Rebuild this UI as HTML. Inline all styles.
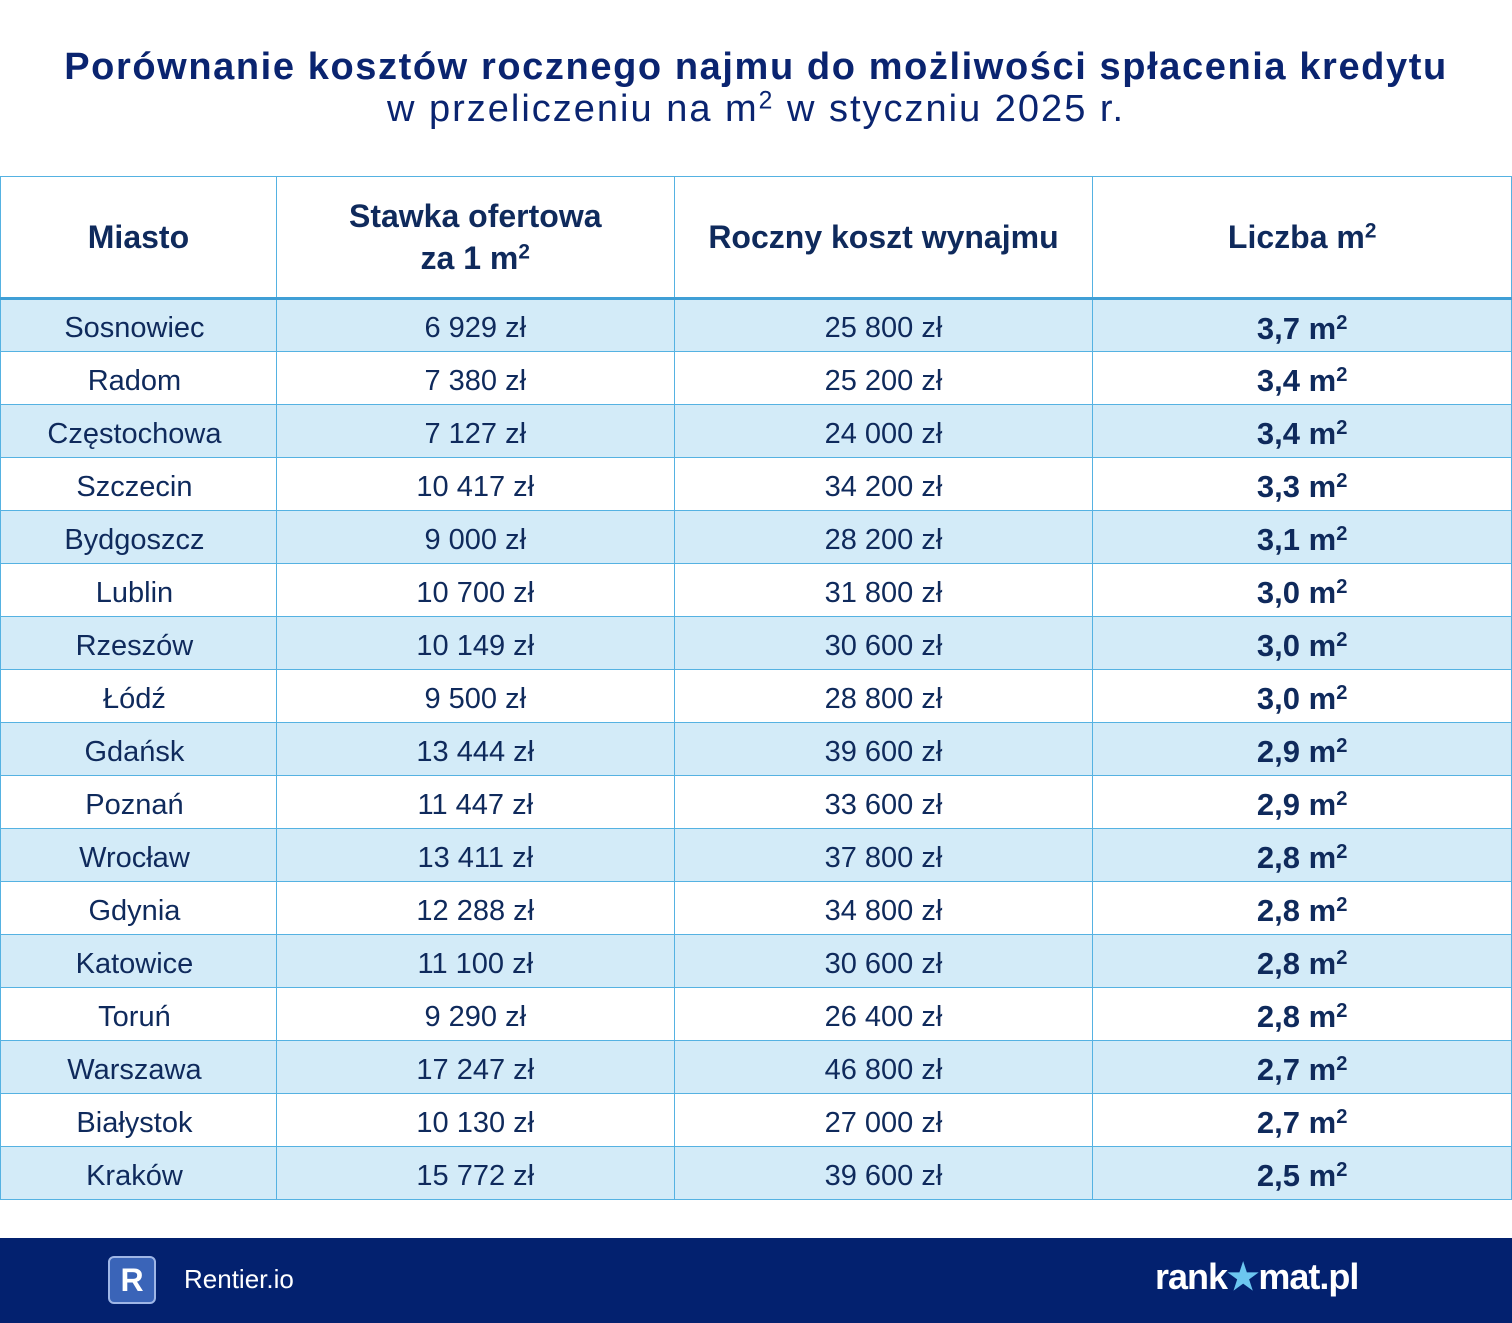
<!DOCTYPE html>
<html><head><meta charset="utf-8"><style>
body{margin:0;width:1512px;height:1323px;background:#fff;font-family:"Liberation Sans",sans-serif;color:#0f2a5c;position:relative;overflow:hidden}
.t1{position:absolute;top:46px;left:0;width:1512px;text-align:center;font-weight:bold;font-size:38px;color:#0a2470;letter-spacing:1.6px}
.t2{position:absolute;top:88px;left:0;width:1512px;text-align:center;font-size:38px;color:#0a2470;letter-spacing:2px}
table{position:absolute;top:176px;left:0;width:1512px;border-collapse:collapse}
td,th{border:1px solid #55b2e2;text-align:center;padding:0}
th{height:120px;font-size:32px;font-weight:bold;line-height:42px;border-bottom:3px solid #3f9fd6}
td{height:53px;font-size:29px;padding-top:6px;box-sizing:border-box}
tr.b td{background:#d3ebf8}
td.l{font-weight:bold;font-size:31px}
td:first-child{padding-right:8px}
sup{font-size:0.65em;vertical-align:0.5em;line-height:0}
.foot{position:absolute;top:1238px;left:0;width:1512px;height:85px;background:#03216f}
</style></head><body>
<div class="t1">Porównanie kosztów rocznego najmu do możliwości spłacenia kredytu</div>
<div class="t2">w przeliczeniu na m<sup>2</sup> w styczniu 2025 r.</div>
<table>
<colgroup><col style="width:276px"><col style="width:398px"><col style="width:419px"><col style="width:419px"></colgroup>
<tr><th>Miasto</th><th>Stawka ofertowa<br>za 1 m<sup>2</sup></th><th>Roczny koszt wynajmu</th><th>Liczba m<sup>2</sup></th></tr>
<tr class="b"><td>Sosnowiec</td><td>6 929 zł</td><td>25 800 zł</td><td class="l">3,7 m<sup>2</sup></td></tr>
<tr><td>Radom</td><td>7 380 zł</td><td>25 200 zł</td><td class="l">3,4 m<sup>2</sup></td></tr>
<tr class="b"><td>Częstochowa</td><td>7 127 zł</td><td>24 000 zł</td><td class="l">3,4 m<sup>2</sup></td></tr>
<tr><td>Szczecin</td><td>10 417 zł</td><td>34 200 zł</td><td class="l">3,3 m<sup>2</sup></td></tr>
<tr class="b"><td>Bydgoszcz</td><td>9 000 zł</td><td>28 200 zł</td><td class="l">3,1 m<sup>2</sup></td></tr>
<tr><td>Lublin</td><td>10 700 zł</td><td>31 800 zł</td><td class="l">3,0 m<sup>2</sup></td></tr>
<tr class="b"><td>Rzeszów</td><td>10 149 zł</td><td>30 600 zł</td><td class="l">3,0 m<sup>2</sup></td></tr>
<tr><td>Łódź</td><td>9 500 zł</td><td>28 800 zł</td><td class="l">3,0 m<sup>2</sup></td></tr>
<tr class="b"><td>Gdańsk</td><td>13 444 zł</td><td>39 600 zł</td><td class="l">2,9 m<sup>2</sup></td></tr>
<tr><td>Poznań</td><td>11 447 zł</td><td>33 600 zł</td><td class="l">2,9 m<sup>2</sup></td></tr>
<tr class="b"><td>Wrocław</td><td>13 411 zł</td><td>37 800 zł</td><td class="l">2,8 m<sup>2</sup></td></tr>
<tr><td>Gdynia</td><td>12 288 zł</td><td>34 800 zł</td><td class="l">2,8 m<sup>2</sup></td></tr>
<tr class="b"><td>Katowice</td><td>11 100 zł</td><td>30 600 zł</td><td class="l">2,8 m<sup>2</sup></td></tr>
<tr><td>Toruń</td><td>9 290 zł</td><td>26 400 zł</td><td class="l">2,8 m<sup>2</sup></td></tr>
<tr class="b"><td>Warszawa</td><td>17 247 zł</td><td>46 800 zł</td><td class="l">2,7 m<sup>2</sup></td></tr>
<tr><td>Białystok</td><td>10 130 zł</td><td>27 000 zł</td><td class="l">2,7 m<sup>2</sup></td></tr>
<tr class="b"><td>Kraków</td><td>15 772 zł</td><td>39 600 zł</td><td class="l">2,5 m<sup>2</sup></td></tr>
</table>
<div class="foot">
<div style="position:absolute;left:108px;top:18px;width:48px;height:48px;border:2px solid #9fb6e6;border-radius:6px;background:#3a64b8;box-sizing:border-box;color:#fff;font-weight:bold;font-size:32px;text-align:center;line-height:44px">R</div>
<div style="position:absolute;left:184px;top:26px;color:#fff;font-size:26px">Rentier.io</div>
<div style="position:absolute;left:1155px;top:18px;color:#fff;font-size:36px;font-weight:bold;letter-spacing:-1px">rank<span style="color:#6cc6f0">★</span>mat.pl</div>
</div>
</body></html>
